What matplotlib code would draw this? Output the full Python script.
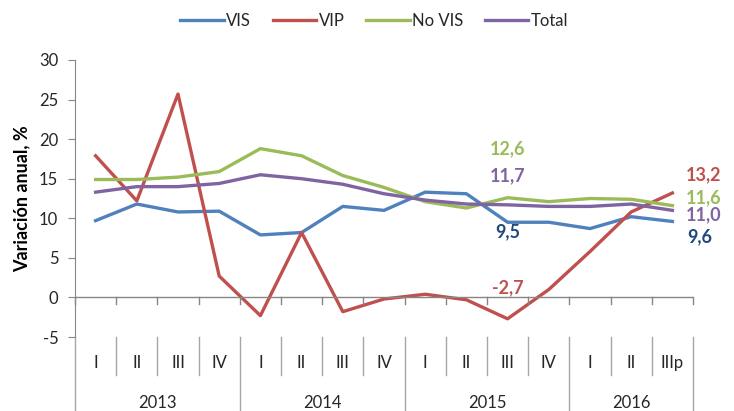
import matplotlib
matplotlib.use("Agg")
import matplotlib.pyplot as plt
from matplotlib.transforms import blended_transform_factory

# --- данные ---
years = ["2013", "2014", "2015", "2016"]
quarters = ["I", "II", "III", "IV", "I", "II", "III", "IV",
            "I", "II", "III", "IV", "I", "II", "IIIp"]
quarters_per_year = [4, 4, 4, 3]

vis = [9.7, 11.8, 10.8, 10.9, 7.9, 8.2, 11.5, 11.0,
       13.3, 13.1, 9.5, 9.5, 8.7, 10.2, 9.6]
vip = [17.9, 12.2, 25.7, 2.7, -2.3, 8.2, -1.8, -0.2,
       0.4, -0.3, -2.7, 1.0, 5.8, 10.8, 13.2]
no_vis = [14.9, 14.9, 15.2, 15.9, 18.8, 17.9, 15.4, 13.9,
          12.1, 11.3, 12.6, 12.1, 12.5, 12.4, 11.6]
total = [13.3, 14.0, 14.0, 14.4, 15.5, 15.0, 14.3, 13.1,
         12.3, 11.8, 11.7, 11.5, 11.5, 11.8, 11.0]

series = [("VIS", vis, "#4F81BD"), ("VIP", vip, "#C0504D"),
          ("No VIS", no_vis, "#9BBB59"), ("Total", total, "#8064A2")]

# подписи: (ряд, индекс точки, цвет текста, смещение в pt, выравнивание)
labels = [
    (no_vis, 10, "#9BBB59", (0, 35), "center"),
    (total, 10, "#8064A2", (0, 21), "center"),
    (vis, 10, "#1F497D", (0, -7), "center"),
    (vip, 10, "#C0504D", (0, 22), "center"),
    (vip, 14, "#C0504D", (10, 13), "left"),
    (no_vis, 14, "#9BBB59", (10, 6), "left"),
    (total, 14, "#8064A2", (10, -3.5), "left"),
    (vis, 14, "#1F497D", (11, -11), "left"),
]

plt.rcParams["font.family"] = ["Lato", "DejaVu Sans"]
plt.rcParams["axes.unicode_minus"] = False
txt = "#262626"

fig = plt.figure(figsize=(7.34, 4.11), dpi=100)
ax = fig.add_axes([75 / 734, 74 / 411, 618 / 734, 277 / 411])

x = list(range(len(quarters)))
for name, vals, col in series:
    ax.plot(x, vals, color=col, lw=2.4, label=name, solid_joinstyle="round")

for vals, i, col, off, ha in labels:
    ax.annotate(f"{vals[i]:.1f}".replace(".", ","), (i, vals[i]),
                xytext=off, textcoords="offset points", ha=ha, va="center",
                color=col, fontsize=13, fontweight="bold")

ax.set_xlim(-0.5, len(quarters) - 0.5)
ax.set_ylim(-5, 30)
ax.set_yticks(range(-5, 31, 5))
ax.tick_params(axis="y", direction="out", length=5, color="#868686",
               labelsize=12, labelcolor=txt, pad=7)
for s in ["top", "right", "bottom"]:
    ax.spines[s].set_visible(False)
ax.spines["left"].set_color("#868686")
ax.set_xticks([])
ax.axhline(0, color="#868686", lw=1)

gray = "#A6A6A6"
tr = blended_transform_factory(ax.transData, ax.transAxes)
# тики на оси x (на нуле)
for b in range(len(quarters) + 1):
    ax.plot([b - 0.5, b - 0.5], [0, -0.8], color="#868686", lw=1, clip_on=False)

# многоуровневые подписи оси
qh = -38 / 277
yh = -74 / 277
year_bounds = [0]
for n in quarters_per_year:
    year_bounds.append(year_bounds[-1] + n)
for b in range(len(quarters) + 1):
    bottom = yh if b in year_bounds else qh
    ax.plot([b - 0.5, b - 0.5], [0, bottom], color=gray, lw=1, clip_on=False, transform=tr)
for i, q in enumerate(quarters):
    ax.text(i, -26 / 277, q, transform=tr, ha="center", va="center", fontsize=12, color=txt)
for k, y in enumerate(years):
    c = (year_bounds[k] + year_bounds[k + 1] - 1) / 2
    ax.text(c, -66 / 277, y, transform=tr, ha="center", va="center", fontsize=12, color=txt)

ax.set_ylabel("Variación anual, %", fontsize=13, fontweight="bold", color="black", labelpad=6)

fig.legend(loc="upper center", bbox_to_anchor=(0.51, 1.005), ncol=4, frameon=False,
           fontsize=12, handlelength=2.6, handletextpad=0.15, columnspacing=1.3,
           labelcolor=txt)

fig.savefig("out.png", dpi=100)
